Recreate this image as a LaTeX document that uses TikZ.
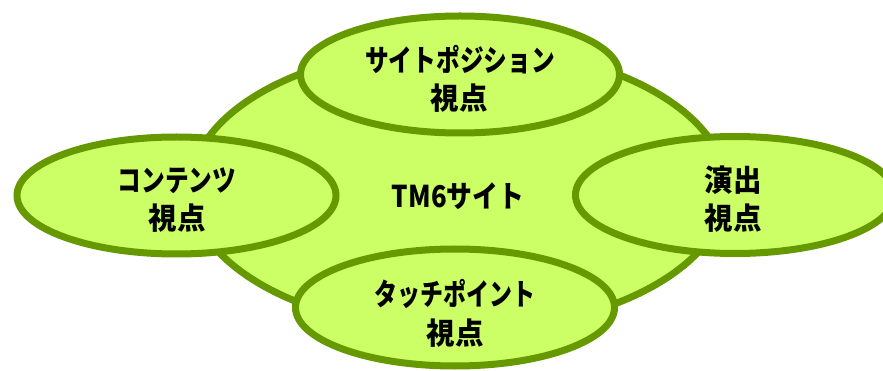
\documentclass[tikz,border=0pt]{standalone}
\usepackage{fontspec}
\usepackage{graphicx}
\newfontfamily\jpfont{Noto Sans CJK JP}
\usetikzlibrary{shapes.geometric}
\definecolor{limefill}{RGB}{204,255,102}
\definecolor{edgegreen}{RGB}{102,153,0}
\newcommand{\narrowtxt}[1]{\scalebox{0.79}[1]{#1}}
\begin{document}
\begin{tikzpicture}[x=1pt,y=-1pt,
  bubble/.style={ellipse, draw=edgegreen, fill=limefill, line width=7pt,
    minimum width=319pt, minimum height=117pt, inner sep=0pt},
  lbl/.style={anchor=base, inner sep=0pt, text=black,
    font=\jpfont\bfseries\fontsize{30}{30}\selectfont}]
\useasboundingbox (0,0) rectangle (883,371);
\node[bubble, minimum width=536pt, minimum height=284pt] (core) at (458.5,188.5) {};
\node[bubble] (top) at (460,74.5) {};
\node[bubble] (left) at (176.5,195.5) {};
\node[bubble] (right) at (735,195) {};
\node[bubble] (bottom) at (455,307.5) {};
\node[lbl] (coretext) at (458,208) {\scalebox{0.86}[1]{TM6サイト}};
\node[lbl] (topa) at (460,71.4) {\narrowtxt{サイトポジション}};
\node[lbl] (topb) at (459,109.4) {\scalebox{0.95}[1]{視点}};
\node[lbl] (lefta) at (177,191.4) {\narrowtxt{コンテンツ}};
\node[lbl] (leftb) at (177,229.4) {\scalebox{0.95}[1]{視点}};
\node[lbl] (righta) at (733,191.4) {\scalebox{0.95}[1]{演出}};
\node[lbl] (rightb) at (733,229.4) {\scalebox{0.95}[1]{視点}};
\node[lbl] (bottoma) at (455,305.4) {\scalebox{0.765}[1]{タッチポイント}};
\node[lbl] (bottomb) at (455,344.4) {\scalebox{0.95}[1]{視点}};
\end{tikzpicture}
\end{document}
